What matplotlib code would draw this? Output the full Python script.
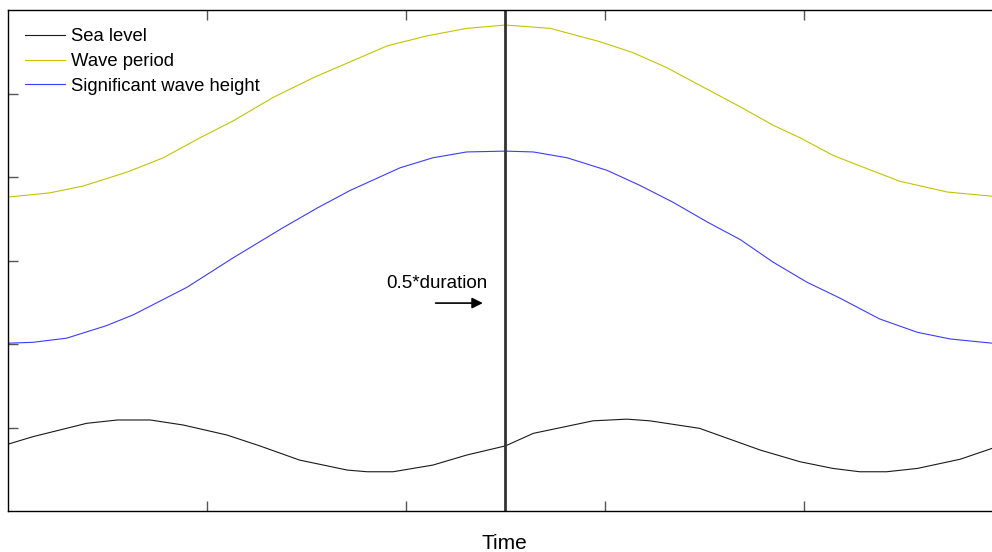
import matplotlib
matplotlib.use("Agg")
import matplotlib.pyplot as plt

plt.rcParams['font.family'] = ['Liberation Sans', 'DejaVu Sans']

# Wave period
x_tp = [0, .042, .075, .120, .156, .193, .226, .266, .307, .344, .381, .421, .461, .5,
        .545, .595, .628, .662, .695, .736, .769, .796, .829, .859, .896, .944, .989, 1.0]
y_tp = [3.76, 3.81, 3.89, 4.06, 4.23, 4.47, 4.67, 4.95, 5.19, 5.38, 5.57, 5.69, 5.78, 5.82,
        5.78, 5.62, 5.49, 5.31, 5.10, 4.84, 4.62, 4.47, 4.26, 4.12, 3.95, 3.82, 3.77, 3.76]

# Significant wave height
x_hs = [0, .025, .059, .099, .126, .180, .226, .276, .311, .344, .394, .427, .461, .5,
        .528, .562, .602, .635, .668, .703, .736, .769, .803, .836, .876, .914, .947, .989, 1.0]
y_hs = [2.01, 2.02, 2.07, 2.22, 2.35, 2.68, 3.03, 3.39, 3.63, 3.84, 4.11, 4.23, 4.30, 4.31,
        4.30, 4.23, 4.08, 3.90, 3.70, 3.46, 3.25, 2.98, 2.74, 2.55, 2.30, 2.14, 2.06, 2.01, 2.01]

# Sea level
x_sl = [0, .025, .079, .110, .143, .176, .220, .253, .293, .341, .361, .387, .427, .461, .5,
        .528, .588, .622, .645, .695, .756, .796, .829, .856, .883, .914, .957, .989, 1.0]
y_sl = [.80, .89, 1.05, 1.09, 1.09, 1.03, .91, .78, .61, .49, .47, .47, .55, .67, .78,
        .93, 1.08, 1.10, 1.08, .99, .73, .59, .51, .47, .47, .51, .62, .75, .72]

x_ticks = [0.2, 0.4, 0.6, 0.8]
y_ticks = [1, 2, 3, 4, 5]
x_mid = 0.5

W, H = 992, 552
fig = plt.figure(figsize=(W / 100, H / 100), dpi=100)
ax = fig.add_axes([8 / W, (H - 511) / H, 995 / W, 501 / H])

ax.plot(x_sl, y_sl, color='#1a1a1a', lw=0.8, label='Sea level')
ax.plot(x_tp, y_tp, color='#c4c400', lw=0.8, label='Wave period')
ax.plot(x_hs, y_hs, color='#3c3cff', lw=0.8, label='Significant wave height')
ax.axvline(x_mid, color='#333333', lw=2.0)

ax.annotate('', xy=(0.480, 2.49), xytext=(0.427, 2.49),
            arrowprops=dict(arrowstyle='-|>', color='black', lw=1.2,
                            mutation_scale=16))
ax.text(0.4315, 2.73, '0.5*duration', ha='center', va='center', fontsize=13.5)

ax.set_xlim(0, 1)
ax.set_ylim(0, 6)
ax.set_xticks(x_ticks)
ax.set_yticks(y_ticks)
ax.tick_params(direction='in', length=7, width=1, colors='#555555',
               labelbottom=False, labelleft=False, top=True, right=False)
for s in ax.spines.values():
    s.set_linewidth(1.0)
    s.set_color('black')

ax.set_xlabel('Time', fontsize=15, va='center')
ax.xaxis.set_label_coords(0.4985, -0.064)

leg = ax.legend(loc='upper left', frameon=False, fontsize=13.3, handlelength=2.15,
                handletextpad=0.3, labelspacing=0.42, borderaxespad=0.0,
                bbox_to_anchor=(0.010, 0.978))

fig.savefig('out.png', dpi=100)
